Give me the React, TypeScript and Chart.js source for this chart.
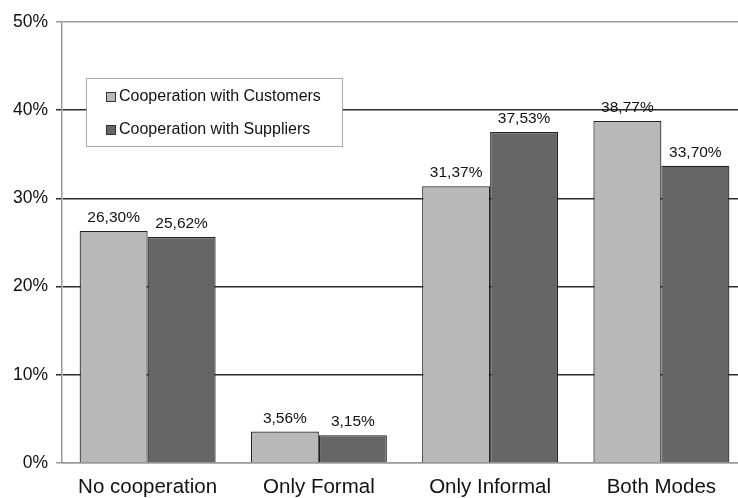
import React, { useEffect, useRef } from "react";
import { Chart, registerables } from "chart.js";

Chart.register(...registerables);

const categories = ["No cooperation", "Only Formal", "Only Informal", "Both Modes"];
const customers = [26.3, 3.56, 31.37, 38.77];
const suppliers = [25.62, 3.15, 37.53, 33.7];
const seriesNames = ["Cooperation with Customers", "Cooperation with Suppliers"];
const seriesColors = ["#b8b8b8", "#666666"];
const yTicks = [0, 10, 20, 30, 40, 50];

const FONT = '"Liberation Sans", Arial, Helvetica, sans-serif';

const fmt = (v: number) => v.toFixed(2).replace(".", ",") + "%";

const labelPlugin = {
  id: "barLabels",
  afterDatasetsDraw(chart: any) {
    const ctx = chart.ctx;
    ctx.save();
    ctx.font = `15.5px ${FONT}`;
    ctx.fillStyle = "#111";
    ctx.textAlign = "center";
    ctx.textBaseline = "alphabetic";
    chart.data.datasets.forEach((ds: any, di: number) => {
      const meta = chart.getDatasetMeta(di);
      meta.data.forEach((el: any, i: number) => {
        ctx.fillText(fmt(ds.data[i]), el.x, el.y - 9);
      });
    });
    ctx.restore();
  },
};

const legendPlugin = {
  id: "boxLegend",
  afterDraw(chart: any) {
    const ctx = chart.ctx;
    ctx.save();
    const x0 = 86.5, y0 = 78.5, w = 256, h = 68;
    ctx.fillStyle = "#ffffff";
    ctx.fillRect(x0, y0, w, h);
    ctx.strokeStyle = "#a8a8a8";
    ctx.lineWidth = 1;
    ctx.strokeRect(x0, y0, w, h);
    ctx.font = `16px ${FONT}`;
    ctx.textBaseline = "middle";
    ctx.textAlign = "left";
    seriesNames.forEach((name, i) => {
      const cy = 97 + i * 33;
      ctx.fillStyle = seriesColors[i];
      ctx.fillRect(106.5, cy - 4.5, 9, 9);
      ctx.strokeStyle = "#333";
      ctx.strokeRect(106.5, cy - 4.5, 9, 9);
      ctx.fillStyle = "#111";
      ctx.fillText(name, 119, cy);
    });
    ctx.restore();
  },
};

export default function App() {
  const ref = useRef<HTMLCanvasElement>(null);
  useEffect(() => {
    if (!ref.current) return;
    const chart = new Chart(ref.current, {
      type: "bar",
      data: {
        labels: categories,
        datasets: [
          {
            label: seriesNames[0],
            data: customers,
            backgroundColor: seriesColors[0],
            borderColor: "#222",
            borderWidth: 1.2,
            barPercentage: 1,
            categoryPercentage: 0.794,
          },
          {
            label: seriesNames[1],
            data: suppliers,
            backgroundColor: seriesColors[1],
            borderColor: "#222",
            borderWidth: 1.2,
            barPercentage: 1,
            categoryPercentage: 0.794,
          },
        ],
      },
      options: {
        responsive: false,
        animation: false,
        layout: { padding: { top: 22, right: 13, left: 0, bottom: 0 } },
        plugins: {
          legend: { display: false },
          tooltip: { enabled: false },
        },
        scales: {
          x: {
            grid: { display: false },
            border: { color: "#9a9a9a", width: 1.5 },
            afterFit: (s: any) => {
              s.height = 35;
            },
            ticks: {
              color: "#111",
              font: { family: FONT, size: 20.5 },
              padding: 4,
              maxRotation: 0,
            },
          },
          y: {
            min: 0,
            max: 50,
            afterFit: (s: any) => {
              s.width = 62;
            },
            afterBuildTicks: (s: any) => {
              s.ticks = yTicks.map((v) => ({ value: v }));
            },
            border: { color: "#9a9a9a", width: 1.5 },
            grid: {
              color: (c: any) =>
                c.tick && (c.tick.value === 50 || c.tick.value === 0) ? "#9a9a9a" : "#2a2a2a",
              lineWidth: 1.5,
              tickLength: 6,
            },
            ticks: {
              color: "#111",
              font: { family: FONT, size: 17.5 },
              padding: 8,
              callback: (v: any) => v + "%",
            },
          },
        },
      },
      plugins: [labelPlugin, legendPlugin],
    });
    return () => chart.destroy();
  }, []);
  return (
    <div
      style={{
        position: "fixed",
        left: 0,
        top: 0,
        width: 738,
        height: 498,
        overflow: "hidden",
        background: "#fff",
      }}
    >
      <canvas ref={ref} width={760} height={498} style={{ display: "block" }} />
    </div>
  );
}
